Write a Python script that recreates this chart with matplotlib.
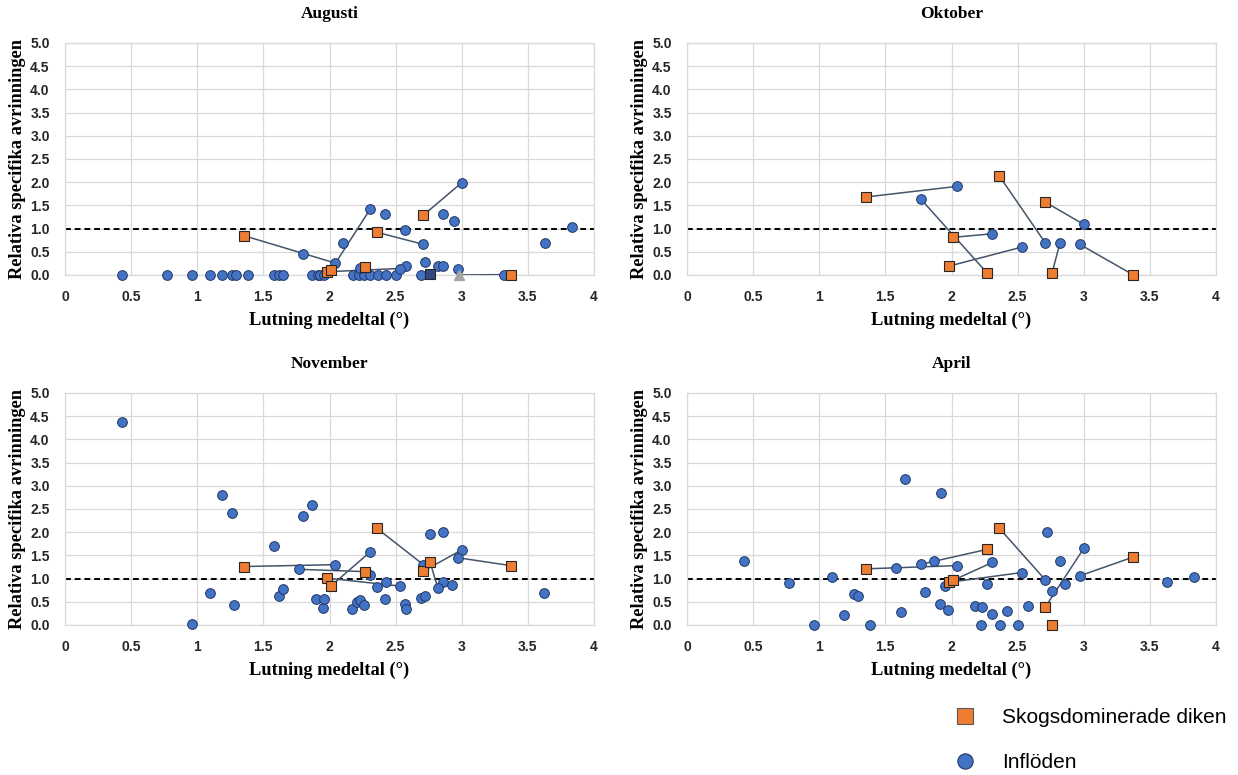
import numpy as np
import matplotlib
matplotlib.use("Agg")
import matplotlib.pyplot as plt
from matplotlib.lines import Line2D

# Lutning (slope) of the forest ditches and of the inflow paired with each ditch
ditch_slope = [1.35, 1.98, 2.01, 2.27, 2.36, 2.71, 2.76, 3.37]
pair_slope = [2.04, 2.53, 2.31, 1.77, 2.71, 3.00, 2.82, 2.97]

# Augusti
aug_ditch = [0.85, 0.07, 0.10, 0.18, 0.92, 1.29, np.nan, 0.01]
aug_pair = [0.26, 0.14, 1.43, np.nan, 0.66, 1.99, np.nan, np.nan]
aug_other_x = [0.43, 0.77, 0.96, 1.10, 1.19, 1.26, 1.29, 1.38, 1.58, 1.62, 1.65,
               1.87, 1.91, 1.93, 1.96, 2.18, 2.22, 2.26, 2.31, 2.37, 2.43, 2.50,
               2.69, 3.32, 1.80, 2.10, 2.42, 2.57, 2.23, 2.58, 2.72, 2.82, 2.86,
               2.86, 2.94, 2.97, 3.63, 3.83]
aug_other_y = [0.0] * 24 + [0.45, 0.70, 1.31, 0.98, 0.15, 0.20, 0.27, 0.20, 0.20,
                            1.31, 1.16, 0.14, 0.68, 1.03]
aug_dark_x = [2.76]
aug_dark_y = [0.02]
aug_zero_x = [2.98]
aug_zero_y = [0.0]

# Oktober
okt_ditch = [1.68, 0.19, 0.81, 0.04, 2.14, 1.57, 0.04, 0.01]
okt_pair = [1.91, 0.60, 0.89, 1.63, 0.69, 1.09, 0.69, 0.66]
okt_other_x = []
okt_other_y = []

# November
nov_ditch = [1.26, 1.01, 0.84, 1.15, 2.08, 1.16, 1.36, 1.28]
nov_pair = [1.30, 0.84, 1.58, 1.20, 1.30, 1.62, 0.79, 1.45]
nov_other_x = [0.43, 0.96, 1.10, 1.19, 1.26, 1.28, 1.58, 1.62, 1.65, 1.80, 1.87,
               1.90, 1.95, 1.96, 2.17, 2.21, 2.23, 2.26, 2.31, 2.36, 2.42, 2.43,
               2.57, 2.58, 2.69, 2.72, 2.76, 2.86, 2.86, 2.93, 3.62]
nov_other_y = [4.37, 0.02, 0.69, 2.80, 2.42, 0.43, 1.71, 0.63, 0.78, 2.34, 2.59,
               0.56, 0.36, 0.55, 0.35, 0.49, 0.54, 0.43, 1.07, 0.82, 0.57, 0.93,
               0.45, 0.34, 0.58, 0.63, 1.96, 2.00, 0.93, 0.86, 0.68]

# April
apr_ditch = [1.21, 0.92, 0.96, 1.63, 2.09, 0.39, 0.01, 1.46]
apr_pair = [1.28, 1.13, 1.35, 1.31, 0.97, 1.65, np.nan, 1.06]
apr_other_x = [0.43, 0.77, 0.96, 1.10, 1.19, 1.26, 1.29, 1.38, 1.58, 1.62, 1.65,
               1.80, 1.87, 1.91, 1.92, 1.95, 1.97, 2.18, 2.22, 2.23, 2.27, 2.31,
               2.37, 2.42, 2.50, 2.58, 2.72, 2.76, 2.82, 2.86, 3.63, 3.83]
apr_other_y = [1.38, 0.91, 0.01, 1.03, 0.22, 0.66, 0.63, 0.01, 1.23, 0.27, 3.15,
               0.72, 1.38, 0.45, 2.85, 0.84, 0.32, 0.40, 0.01, 0.38, 0.89, 0.24,
               0.01, 0.30, 0.01, 0.40, 2.01, 0.74, 1.38, 0.89, 0.93, 1.04]

months = ["Augusti", "Oktober", "November", "April"]
ditch_vals = [aug_ditch, okt_ditch, nov_ditch, apr_ditch]
pair_vals = [aug_pair, okt_pair, nov_pair, apr_pair]
other_x = [aug_other_x, okt_other_x, nov_other_x, apr_other_x]
other_y = [aug_other_y, okt_other_y, nov_other_y, apr_other_y]

x_ticks = [0, 0.5, 1, 1.5, 2, 2.5, 3, 3.5, 4]
x_ticklabels = ["0", "0.5", "1", "1.5", "2", "2.5", "3", "3.5", "4"]
y_ticks = np.arange(0, 5.01, 0.5)

BLUE = "#4472C4"
BLUE_EDGE = "#203864"
ORANGE = "#ED7D31"
SQ_EDGE = "#262626"
LINK = "#44546A"
GRID = "#D9D9D9"

W, H = 1238, 775
fig = plt.figure(figsize=(W / 100, H / 100), dpi=100)

# axes boxes in pixels: left, top, right, bottom
boxes = [(65, 43, 594, 275), (687, 43, 1216, 275),
         (65, 393, 594, 625), (687, 393, 1216, 625)]

serif = {"family": "Liberation Serif", "weight": "bold"}

for i, month in enumerate(months):
    l, t, r, b = boxes[i]
    ax = fig.add_axes([l / W, 1 - b / H, (r - l) / W, (b - t) / H])

    ax.set_xlim(0, 4)
    ax.set_ylim(0, 5)
    ax.set_xticks(x_ticks)
    ax.set_xticklabels(x_ticklabels)
    ax.set_yticks(y_ticks)
    ax.set_yticklabels([f"{v:.1f}" for v in y_ticks])
    ax.tick_params(length=0, labelsize=10, colors="#262626")
    ax.tick_params(axis="x", pad=11)
    ax.tick_params(axis="y", pad=11)
    for lab in ax.get_xticklabels() + ax.get_yticklabels():
        lab.set_fontfamily("Liberation Sans")
        lab.set_fontweight("bold")
    ax.grid(True, color=GRID, linewidth=0.9)
    ax.set_axisbelow(True)
    for sp in ax.spines.values():
        sp.set_color(GRID)
        sp.set_linewidth(0.9)

    # reference line at 1
    ax.axhline(1.0, color="black", linestyle=(0, (3, 2)), linewidth=1.4, zorder=2)

    # links between each ditch and its inflow
    for dx, dy, px, py in zip(ditch_slope, ditch_vals[i], pair_slope, pair_vals[i]):
        if np.isnan(dy) or np.isnan(py):
            continue
        ax.plot([dx, px], [dy, py], color=LINK, linewidth=1.1, zorder=3)

    if month == "Augusti":
        ax.plot([aug_zero_x[0], ditch_slope[-1]], [aug_zero_y[0], aug_ditch[-1]],
                color=LINK, linewidth=1.1, zorder=3)

    ax.plot(other_x[i], other_y[i], "o", color=BLUE, markeredgecolor=BLUE_EDGE,
            markeredgewidth=0.7, markersize=7, linestyle="none", zorder=4, clip_on=False)
    ax.plot(pair_slope, pair_vals[i], "o", color=BLUE, markeredgecolor=BLUE_EDGE,
            markeredgewidth=0.7, markersize=7, linestyle="none", zorder=4, clip_on=False)
    ax.plot(ditch_slope, ditch_vals[i], "s", color=ORANGE, markeredgecolor=SQ_EDGE,
            markeredgewidth=0.8, markersize=6.8, linestyle="none", zorder=5, clip_on=False)

    if month == "Augusti":
        ax.plot(aug_dark_x, aug_dark_y, "s", color="#2F4A80", markeredgecolor=SQ_EDGE,
                markeredgewidth=0.8, markersize=6.8, linestyle="none", zorder=5, clip_on=False)
        ax.plot(aug_zero_x, aug_zero_y, "^", color="#A5A5A5", markeredgecolor="#A5A5A5",
                markersize=7, linestyle="none", zorder=5, clip_on=False)

    ax.text(0.5, 1 + 29 / (b - t), month, transform=ax.transAxes, ha="center",
            va="center", fontsize=12.5, **serif)
    ax.set_xlabel("Lutning medeltal (°)", fontsize=13.2, **serif)
    ax.xaxis.set_label_coords(0.5, -45 / (b - t))
    ax.xaxis.label.set_va("center")
    ax.set_ylabel("Relativa specifika avrinningen", fontsize=13.2, **serif)
    ax.yaxis.set_label_coords(-47 / (r - l), 0.5)
    ax.yaxis.label.set_va("center")

handles = [
    Line2D([], [], marker="s", color=ORANGE, markeredgecolor="#595959",
           markeredgewidth=0.8, markersize=11, linestyle="none"),
    Line2D([], [], marker="o", color=BLUE, markeredgecolor=BLUE_EDGE,
           markeredgewidth=0.8, markersize=11, linestyle="none"),
]
fig.legend(handles, ["Skogsdominerade diken", "Inflöden"], loc="center left",
           bbox_to_anchor=(936 / W, 1 - 740 / H), frameon=False,
           prop={"family": "Liberation Sans", "size": 15},
           handlelength=1.0, handletextpad=1.28, labelspacing=1.24, borderpad=0.4)

fig.savefig("out.png", dpi=100)
